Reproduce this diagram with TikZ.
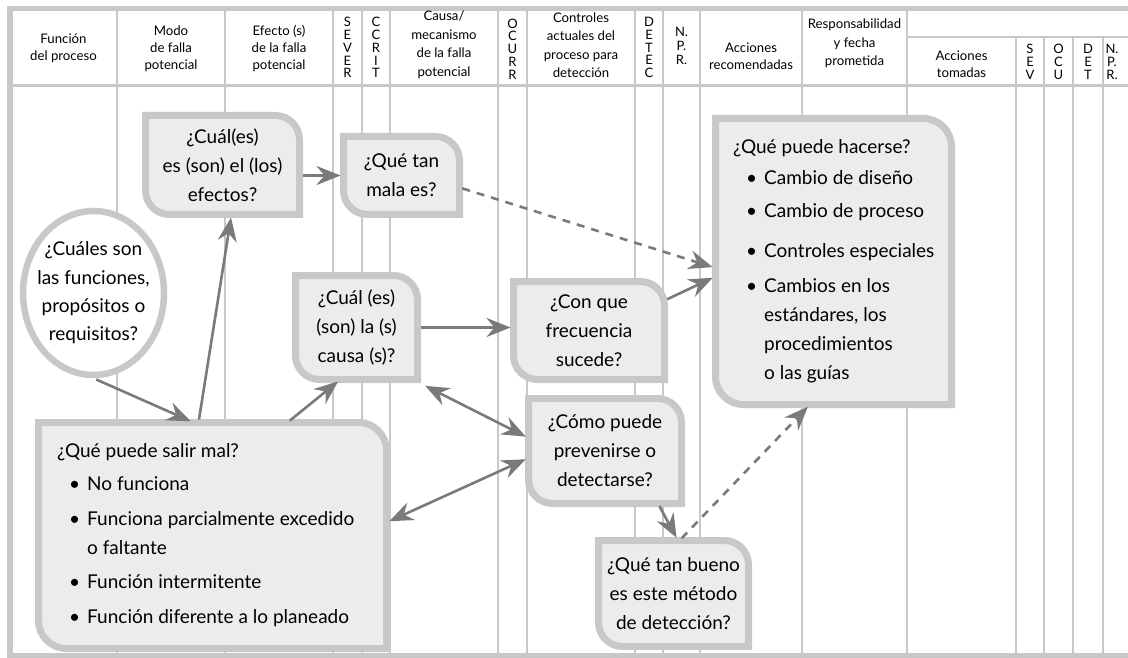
\documentclass[tikz,border=0pt]{standalone}
\usepackage{fontspec}
\setmainfont{Lato}
\usetikzlibrary{arrows.meta,calc,backgrounds,shapes.geometric}

\definecolor{rulegray}{HTML}{C8C8C8}
\definecolor{boxgray}{HTML}{ECECEC}
\definecolor{arrowgray}{HTML}{7A7A7A}

\tikzset{
  tablerule/.style={draw=rulegray, line width=2.6pt},
  tableedge/.style={draw=rulegray, line width=5.5pt},
  headtxt/.style={align=center, inner sep=0pt, font=\fontsize{13.2}{17}\selectfont},
  letterstack/.style={align=center, inner sep=0pt, font=\fontsize{13}{12.8}\selectfont},
  qbox/.style={rectangle, inner sep=0pt, outer sep=0pt, align=center, font=\fontsize{19}{29}\selectfont},
  qline/.style={draw=rulegray, fill=boxgray, line width=7pt},
  listtxt/.style={align=left, inner sep=0pt, font=\fontsize{19}{29}\selectfont},
  flow/.style={draw=arrowgray, line width=2.6pt, -{Stealth[length=24pt,width=19pt,inset=8pt]},
    shorten >=3pt, shorten <=3pt},
  twoway/.style={flow, {Stealth[length=24pt,width=19pt,inset=8pt]}-{Stealth[length=24pt,width=19pt,inset=8pt]}},
  dashflow/.style={flow, dash pattern=on 8pt off 7pt},
}

% box outline: square top-left and bottom-right, round top-right and bottom-left
\newcommand\qframe[2][24pt]{%
  \draw[qline] (#2.north west) -- ([xshift=-#1]#2.north east)
    arc[start angle=90, end angle=0, radius=#1] -- (#2.south east)
    -- ([xshift=#1]#2.south west)
    arc[start angle=270, end angle=180, radius=#1] -- cycle;}
\newcommand\bul[2]{\hspace*{#1}\makebox[#2][l]{\textbullet}}

\begin{document}
\begin{tikzpicture}[x=1pt,y=-1pt]
\useasboundingbox (0,0) rectangle (1128,658);

% table
\begin{scope}[on background layer]
  \foreach \x in {117,225,333,362,390,498,527,635,663,700,802,907}
    \draw[tablerule] (\x,8) -- (\x,655);
  \foreach \x in {1016,1044,1073,1103}
    \draw[tablerule] (\x,37) -- (\x,655);
  \draw[tablerule] (10,85.5) -- (1128,85.5);
  \draw[tablerule] (907,37) -- (1128,37);
  \draw[tableedge] (1128,8.5) -- (10,8.5) -- (10,655.5) -- (1128,655.5);
\end{scope}

% header
\foreach \x/\y/\t [count=\i] in {
    63.5/48.5/{Función\\del proceso},
    171/49/{Modo\\de falla\\potencial},
    279/49/{Efecto (s)\\de la falla\\potencial},
    444/45/{Causa/\\[1.5pt]mecanismo\\[1.5pt]de la falla\\[1.5pt]potencial},
    581/45/{Controles\\[1.5pt]actuales del\\[1.5pt]proceso para\\[1.5pt]detección},
    751/56/{Acciones\\recomendadas},
    854.5/43.5/{Responsabilidad\\[1.5pt]y fecha\\[1.5pt]prometida},
    961.5/64.5/{Acciones\\tomadas}}
  \node[headtxt] (head\i) at (\x,\y) {\t};
\foreach \x/\y/\t [count=\i] in {
    347.5/47.5/{S\\E\\V\\E\\R},
    376/47.5/{C\\C\\R\\I\\T},
    512.5/49/{O\\C\\U\\R\\R},
    649/47.5/{D\\E\\T\\E\\C},
    681.5/46/{N.\\[1.5pt]P.\\[1.5pt]R.},
    1030/62/{S\\E\\V},
    1058.5/62/{O\\C\\U},
    1088/62/{D\\E\\T},
    1112/62/{N.\\P.\\R.}}
  \node[letterstack] (stack\i) at (\x,\y) {\t};

% questions
\node[ellipse, draw=rulegray, fill=white, line width=6.5pt, inner sep=0pt,
  minimum width=141pt, minimum height=164pt] (funcion) at (93.5,293) {};
\node[qbox, font=\fontsize{19}{28.3}\selectfont] (funcion-txt) at (funcion)
  {¿Cuáles son\\las funciones,\\propósitos o\\requisitos?};
\node[qbox, minimum width=154pt, minimum height=99pt] (efectos) at (222.5,165)
  {¿Cuál(es)\\es (son) el (los)\\efectos?};
\node[qbox, minimum width=116pt, minimum height=78pt] (mala) at (401.5,175.5)
  {¿Qué tan\\mala es?};
\node[qbox, minimum width=122pt, minimum height=104pt] (causa) at (356.5,327.5)
  {¿Cuál (es)\\(son) la (s)\\causa (s)?};
\node[qbox, minimum width=151pt, minimum height=98pt] (frecuencia) at (589,330.5)
  {¿Con que\\frecuencia\\sucede?};
\node[qbox, minimum width=153pt, minimum height=105pt] (prevenir) at (605,451)
  {¿Cómo puede\\prevenirse o\\detectarse?};
\node[qbox, minimum width=150pt, minimum height=106pt] (bueno) at (673.5,593.5)
  {¿Qué tan bueno\\es este método\\de detección?};
\node[qbox, minimum width=348pt, minimum height=226pt] (salir) at (212.5,535.5) {};
\node[listtxt, anchor=west] (salir-txt) at ([xshift=18.5pt]salir.west)
  {¿Qué puede salir mal?\\[4pt]
   \bul{12pt}{18pt}No funciona\\[6pt]
   \bul{12pt}{18pt}Funciona parcialmente excedido\\
   \hspace*{30pt}o faltante\\[5pt]
   \bul{12pt}{18pt}Función intermitente\\[6pt]
   \bul{12pt}{18pt}Función diferente a lo planeado};
\node[qbox, minimum width=236pt, minimum height=286pt] (hacer) at (833.5,261.5) {};
\node[listtxt, anchor=west] (hacer-txt) at ([xshift=17.5pt]hacer.west)
  {¿Qué puede hacerse?\\[2pt]
   \bul{13pt}{18pt}Cambio de diseño\\[4pt]
   \bul{13pt}{18pt}Cambio de proceso\\[11pt]
   \bul{13pt}{18pt}Controles especiales\\[6pt]
   \bul{13pt}{18pt}Cambios en los\\
   \hspace*{31pt}estándares, los\\
   \hspace*{31pt}procedimientos\\
   \hspace*{31pt}o las guías};

\begin{scope}[on background layer]
  \qframe{efectos}
  \qframe{mala}
  \qframe{causa}
  \qframe{frecuencia}
  \qframe{prevenir}
  \qframe{bueno}
  \qframe[28pt]{salir}
  \qframe[28pt]{hacer}
\end{scope}

% arrows
\draw[flow] (efectos.east |- mala.west) -- (mala.west);
\draw[dashflow] ($(mala.east)+(0,12)$) -- ($(hacer.west)+(0,6.5)$);
\draw[flow] (funcion.south) -- ($(salir.north west)+(155,0)$);
\draw[flow] ($(salir.north west)+(160,0)$) -- ($(efectos.south)+(9,0)$);
\draw[flow] ($(salir.north west)+(249,0)$) -- ($(causa.south)+(-16,0)$);
\draw[flow] (causa.east) -- (causa.east -| frecuencia.west);
\draw[flow] ($(frecuencia.east)+(0,-30)$) -- ($(hacer.west)+(0,15)$);
\draw[twoway] ($(causa.south east)+(5,5)$) -- ($(prevenir.west)+(0,-13)$);
\draw[twoway] ($(salir.east)+(0,-13)$) -- ($(prevenir.west)+(0,7)$);
\draw[flow] ($(prevenir.south)+(53,0)$) -- ($(bueno.north)+(4.5,0)$);
\draw[dashflow] ($(bueno.north)+(6,0)$) -- ($(hacer.south)+(-23.5,0)$);
\end{tikzpicture}
\end{document}
